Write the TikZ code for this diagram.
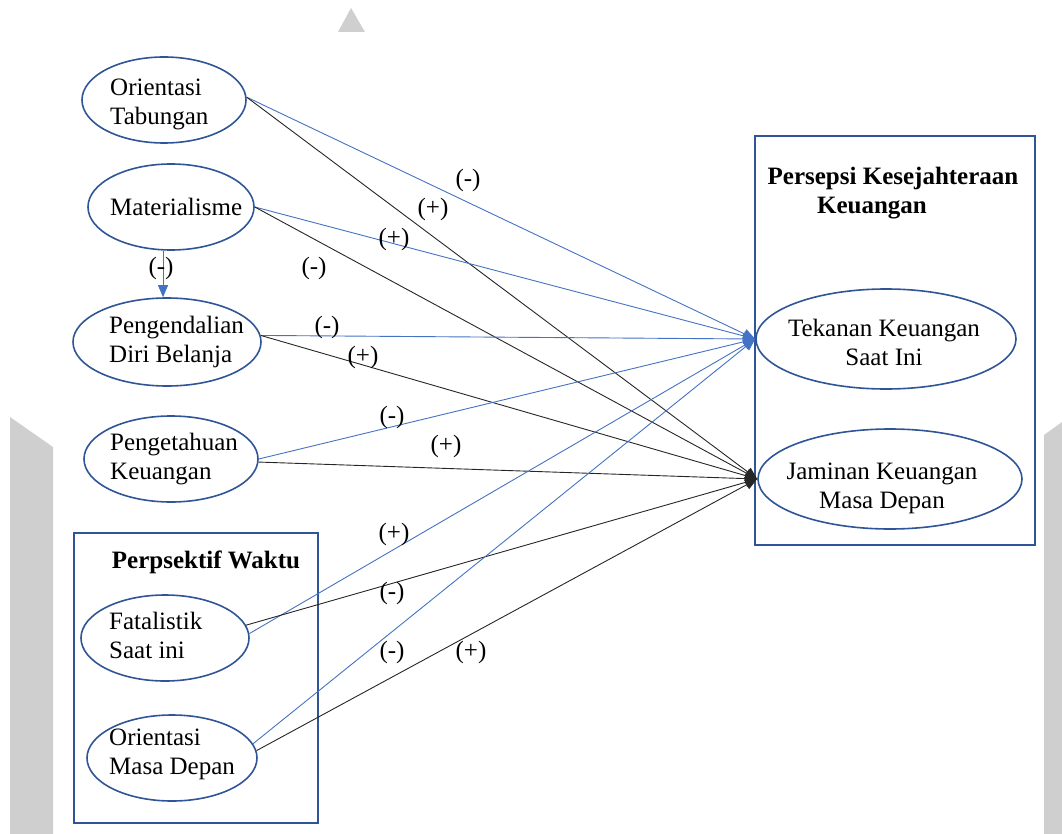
\documentclass[tikz,border=0pt]{standalone}
\usepackage{fontspec}
\setmainfont{Liberation Serif}
\usetikzlibrary{arrows.meta,shapes.geometric}
\definecolor{ebl}{HTML}{2F5597}
\definecolor{lbl}{HTML}{4472C4}
\definecolor{wm}{HTML}{CFCFCF}
\begin{document}
\begin{tikzpicture}[x=1pt,y=-1pt,
  every node/.style={font=\fontsize{25}{29}\selectfont},
  var/.style={ellipse, draw=ebl, line width=1.6pt, inner sep=0pt},
  txt/.style={inner sep=0pt, align=left, anchor=west},
  ctx/.style={inner sep=0pt, align=center},
  grp/.style={draw=ebl, line width=1.4pt},
  bl/.style={draw=lbl, line width=0.9pt, -{Triangle[length=12pt,width=10pt]}, lbl},
  bk/.style={draw=black!85, line width=0.9pt, -{Triangle[length=12pt,width=10pt]}},
  sgn/.style={inner sep=0pt},
  ttl/.style={font=\fontsize{25}{29}\selectfont\bfseries, inner sep=0pt},
  wmk/.style={fill=wm, draw=none}]
\useasboundingbox (0,0) rectangle (1062,834);
% background marks
\fill[wmk] (338,32) -- (351,8) -- (365,32) -- cycle;
\fill[wmk] (10,834) -- (10,417) -- (53,447) -- (53,834) -- cycle;
\fill[wmk] (1044,834) -- (1044,435) -- (1062,422) -- (1062,834) -- cycle;
% group boxes
\draw[grp] (74,533) rectangle (318,823);
\draw[grp] (755,136) rectangle (1035,545);
\node[ttl] (tw) at (206,562) {Perpsektif Waktu};
\node[ttl] (pk1) at (893,178) {Persepsi Kesejahteraan};
\node[ttl] (pk2) at (872,208) {Keuangan};
% variables
\node[var, minimum width=164pt, minimum height=86pt] (ot) at (164,100) {};
\node[var, minimum width=166pt, minimum height=86pt] (ma) at (171,207) {};
\node[var, minimum width=188pt, minimum height=88pt] (pd) at (167,342) {};
\node[var, minimum width=174pt, minimum height=86pt] (pg) at (171,459) {};
\node[var, minimum width=168pt, minimum height=86pt] (fs) at (165,638) {};
\node[var, minimum width=170pt, minimum height=86pt] (om) at (172,758) {};
\node[var, minimum width=260pt, minimum height=100pt] (tk) at (886,339) {};
\node[var, minimum width=264pt, minimum height=100pt] (jm) at (890,479) {};
% variable texts
\node[txt] (ot-t) at (110,104) {Orientasi\\Tabungan};
\node[txt] (ma-t) at (110,207) {Materialisme};
\node[txt] (pd-t) at (109,342) {Pengendalian\\Diri Belanja};
\node[txt] (pg-t) at (110,459) {Pengetahuan\\Keuangan};
\node[txt] (fs-t) at (109,635) {Fatalistik\\Saat ini};
\node[txt] (om-t) at (109,754) {Orientasi\\Masa Depan};
\node[ctx] (tk-t) at (884,342) {Tekanan Keuangan\\Saat Ini};
\node[ctx] (jm-t) at (882,488) {Jaminan Keuangan\\Masa Depan};
% connectors
\draw[bl] ([xshift=-8pt]ma.south) -- ([xshift=-4pt]pd.north);
\draw[bl] (ot.2) -- (tk.west);
\draw[bk] (ot.2) -- (jm.west);
\draw[bl] (ma.east) -- (tk.west);
\draw[bk] (ma.east) -- (jm.west);
\draw[bl] (pd.4) -- (tk.west);
\draw[bk] (pd.4) -- (jm.west);
\draw[bl] (pg.east) -- (tk.west);
\draw[bk] (pg.-2) -- (jm.west);
\draw[bl] (fs.3) -- (tk.west);
\draw[bk] (fs.9) -- (jm.west);
\draw[bl] (om.10) -- (tk.west);
\draw[bk] (om.5) -- (jm.west);
% signs
\node[sgn] (s1) at (468,180) {(-)};
\node[sgn] (s2) at (433,209) {(+)};
\node[sgn] (s3) at (394,239) {(+)};
\node[sgn] (s4) at (314,268) {(-)};
\node[sgn] (s5) at (161,268) {(-)};
\node[sgn] (s6) at (327,327) {(-)};
\node[sgn] (s7) at (363,357) {(+)};
\node[sgn] (s8) at (392,417) {(-)};
\node[sgn] (s9) at (446,446) {(+)};
\node[sgn] (s10) at (394,534) {(+)};
\node[sgn] (s11) at (392,593) {(-)};
\node[sgn] (s12) at (392,652) {(-)};
\node[sgn] (s13) at (471,652) {(+)};
\end{tikzpicture}
\end{document}
